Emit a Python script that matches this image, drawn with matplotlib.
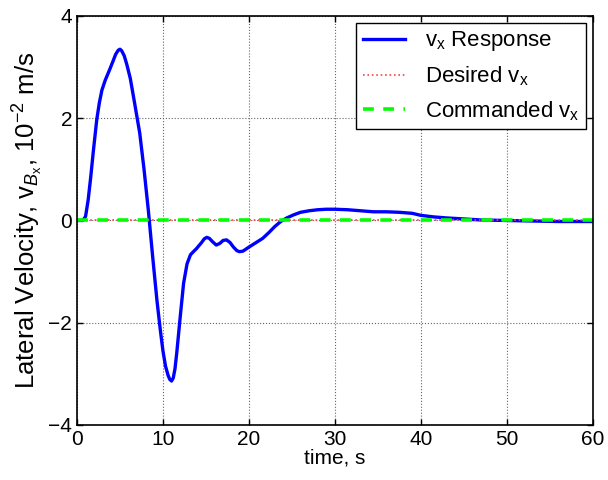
import numpy as np
import matplotlib
matplotlib.use('Agg')
import matplotlib.pyplot as plt

plt.rcParams['font.family'] = ['Liberation Sans', 'DejaVu Sans']
plt.rcParams['mathtext.fontset'] = 'custom'
plt.rcParams['mathtext.rm'] = 'Liberation Sans'
plt.rcParams['mathtext.it'] = 'Liberation Sans:italic'

# data (time in s, velocity in 1e-2 m/s)
t_resp = [0, 0.7, 1.0, 1.3, 1.6, 1.9, 2.3, 2.6, 2.9, 3.3, 3.8, 4.2, 4.5, 4.8, 5.0,
          5.2, 5.5, 5.8, 6.2, 6.7, 7.3, 7.8, 8.3, 8.8, 9.3, 9.7, 10.0, 10.3, 10.6,
          10.8, 11.0, 11.2, 11.4, 11.6, 12.0, 12.4, 12.8, 13.2, 13.6, 13.9, 14.5,
          14.8, 15.1, 15.4, 15.8, 16.2, 16.6, 17.0, 17.4, 17.8, 18.2, 18.6, 18.9,
          19.3, 20.1, 21.6, 22.3, 23.0, 23.7, 24.4, 25.2, 26.0, 27.0, 28.0, 29.0,
          30.0, 31.5, 33.0, 34.5, 36.0, 37.5, 39.0, 40.0, 41.5, 43.0, 45.0, 47.0,
          50.0, 53.0, 56.0, 60.0]
v_resp = [0, 0, 0.08, 0.4, 0.85, 1.35, 1.97, 2.3, 2.55, 2.75, 2.95, 3.12, 3.25,
          3.33, 3.35, 3.32, 3.22, 3.05, 2.78, 2.3, 1.71, 1.0, 0.2, -0.7, -1.56,
          -2.15, -2.55, -2.85, -3.03, -3.11, -3.14, -3.08, -2.9, -2.6, -1.9, -1.23,
          -0.85, -0.67, -0.6, -0.55, -0.43, -0.36, -0.33, -0.35, -0.42, -0.48,
          -0.45, -0.39, -0.38, -0.43, -0.52, -0.59, -0.61, -0.6, -0.51, -0.35,
          -0.24, -0.12, -0.02, 0.05, 0.11, 0.16, 0.19, 0.21, 0.22, 0.22, 0.21,
          0.19, 0.17, 0.17, 0.16, 0.14, 0.1, 0.07, 0.05, 0.03, 0.01, 0.0, -0.01,
          -0.02, -0.02]
t_ref = [0, 60]
v_desired = [0, 0]
v_commanded = [0, 0]

fig = plt.figure(figsize=(6.08, 4.8), dpi=100)
ax = fig.add_axes([0.1266, 0.1146, 0.8484, 0.8521])

ax.plot(t_resp, v_resp, color='#0000ff', linewidth=2.4, label=r'v$_\mathrm{x}$ Response')
ax.plot(t_ref, v_desired, color='#ff4040', linestyle=':', linewidth=1.2,
        label=r'Desired v$_\mathrm{x}$')
ax.plot(t_ref, v_commanded, color='#00ff00', linestyle=(0, (3, 2.6)), linewidth=2.6,
        label=r'Commanded v$_\mathrm{x}$')

ax.set_xlim(0, 60)
ax.set_ylim(-4, 4)
ax.set_xticks(np.arange(0, 61, 10))
ax.set_yticks([-4, -2, 0, 2, 4])
ax.tick_params(direction='in', top=True, right=True, labelsize=15, length=4, width=1)
ax.grid(True, linestyle=':', color='#666666', linewidth=0.8)
for s in ax.spines.values():
    s.set_linewidth(1.2)

ax.set_xlabel('time, s', fontsize=15, labelpad=0)
ax.set_ylabel(r'Lateral Velocity, v$_{B_\mathrm{x}}$, 10$^{\mathrm{-2}}$ m/s', fontsize=18.5, labelpad=2)

leg = ax.legend(loc='upper right', fontsize=16, fancybox=False, framealpha=1,
                edgecolor='black', borderaxespad=0.3, handlelength=1.9,
                labelspacing=0.5, borderpad=0.3, handletextpad=0.9)
leg.get_frame().set_linewidth(1.0)

fig.savefig('out.png', dpi=100)
